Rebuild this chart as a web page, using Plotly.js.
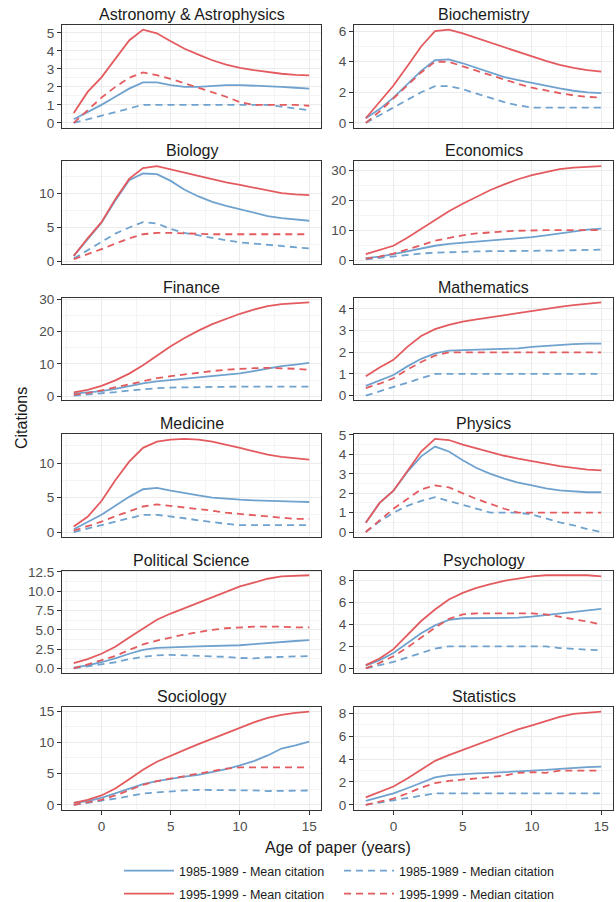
<!DOCTYPE html>
<html>
<head>
<meta charset="utf-8">
<script src="https://cdn.plot.ly/plotly-3.0.1.min.js"></script>
<style>html,body{margin:0;padding:0;background:#fff;overflow:hidden;}#chart{width:616px;height:902px;}</style>
</head>
<body>
<div id="chart"></div>
<script>
const years = [-2,-1,0,1,2,3,4,5,6,7,8,9,10,11,12,13,14,15];

const fields = ["Astronomy & Astrophysics","Biochemistry","Biology","Economics","Finance","Mathematics",
  "Medicine","Physics","Political Science","Psychology","Sociology","Statistics"];
const seriesNames = ["1985-1989 - Mean citation","1985-1989 - Median citation","1995-1999 - Mean citation","1995-1999 - Median citation"];
const yTickStep = [1,2,5,10,10,1,5,1,2.5,2,5,2];
const xTickVals = [0,5,10,15];

// Astronomy & Astrophysics
const astro_mean85 = [0.2,0.6,1.0,1.45,1.9,2.25,2.25,2.1,2.0,2.0,2.05,2.1,2.1,2.08,2.05,2.0,1.95,1.9];
const astro_med85  = [0,0.2,0.4,0.6,0.8,1.0,1.0,1.0,1.0,1.0,1.0,1.0,1.0,1.0,1.0,0.9,0.8,0.7];
const astro_mean95 = [0.55,1.72,2.53,3.57,4.58,5.18,4.98,4.54,4.12,3.79,3.48,3.24,3.06,2.93,2.82,2.73,2.67,2.64];
const astro_med95  = [0,0.7,1.4,2.0,2.5,2.8,2.65,2.45,2.2,1.95,1.7,1.45,1.15,1.0,1.0,1.0,1.0,0.95];
// Biochemistry
const bioch_mean85 = [0.3,0.9,1.65,2.5,3.4,4.1,4.15,3.9,3.6,3.3,3.0,2.8,2.6,2.4,2.25,2.1,2.0,1.95];
const bioch_med85  = [0,0.5,1.0,1.5,2.0,2.4,2.4,2.2,1.9,1.6,1.35,1.15,1.0,1.0,1.0,1.0,1.0,1.0];
const bioch_mean95 = [0.3,1.35,2.44,3.7,5.0,6.0,6.1,5.85,5.55,5.2,4.9,4.6,4.3,4.05,3.8,3.6,3.45,3.35];
const bioch_med95  = [0,0.75,1.6,2.45,3.3,4.0,4.0,3.7,3.4,3.1,2.8,2.55,2.3,2.1,1.95,1.8,1.7,1.65];
// Biology
const biol_mean85 = [0.8,3.3,5.7,9.0,12.0,13.0,12.9,11.9,10.6,9.6,8.8,8.2,7.7,7.2,6.7,6.4,6.2,6.0];
const biol_med85  = [0.4,1.6,2.9,4.1,5.0,5.8,5.6,4.8,4.2,3.8,3.4,3.1,2.8,2.6,2.4,2.2,2.0,1.9];
const biol_mean95 = [0.8,3.4,5.8,9.2,12.2,13.8,14.1,13.6,13.1,12.6,12.1,11.7,11.3,10.9,10.5,10.1,9.9,9.8];
const biol_med95  = [0.3,1.0,1.8,2.6,3.4,4.0,4.2,4.2,4.1,4.0,4.0,4.0,4.0,4.0,4.0,4.0,4.0,4.0];
// Economics
const econ_mean85 = [0.7,1.2,2.0,3.0,4.0,4.8,5.4,5.8,6.2,6.5,6.8,7.2,7.7,8.3,9.0,9.7,10.2,10.5];
const econ_med85  = [0.3,0.8,1.3,1.8,2.2,2.5,2.7,2.8,2.9,3.0,3.0,3.0,3.0,3.1,3.2,3.3,3.4,3.5];
const econ_mean95 = [2.0,3.3,4.8,7.5,10.5,13.5,16.3,18.8,21.2,23.4,25.3,27.0,28.4,29.5,30.4,30.9,31.2,31.4];
const econ_med95  = [0.5,1.2,2.2,3.5,5.0,6.5,7.5,8.3,8.9,9.3,9.6,9.8,10.0,10.0,10.0,10.0,10.0,10.0];
// Finance
const fin_mean85 = [0.8,1.2,1.6,2.3,3.2,4.0,4.6,5.0,5.4,5.8,6.2,6.6,7.1,7.8,8.6,9.3,9.8,10.3];
const fin_med85  = [0.2,0.5,0.8,1.3,1.8,2.2,2.5,2.7,2.8,2.9,3.0,3.0,3.0,3.0,3.0,3.0,3.0,3.0];
const fin_mean95 = [1.2,2.0,3.2,4.9,7.0,9.6,12.5,15.5,18.0,20.3,22.3,24.0,25.5,26.8,27.9,28.5,28.8,29.0];
const fin_med95  = [0.5,1.0,1.8,2.8,3.8,4.8,5.6,6.2,6.8,7.3,7.8,8.2,8.5,8.7,8.8,8.7,8.5,8.2];
// Mathematics
const math_mean85 = [0.45,0.7,0.95,1.35,1.7,1.95,2.08,2.1,2.12,2.15,2.15,2.18,2.25,2.3,2.33,2.38,2.4,2.4];
const math_med85  = [0,0.2,0.4,0.6,0.8,1.0,1.0,1.0,1.0,1.0,1.0,1.0,1.0,1.0,1.0,1.0,1.0,1.0];
const math_mean95 = [0.9,1.3,1.65,2.25,2.75,3.07,3.27,3.42,3.52,3.62,3.73,3.83,3.93,4.02,4.1,4.18,4.25,4.3];
const math_med95  = [0.35,0.55,0.8,1.2,1.55,1.85,2.0,2.0,2.0,2.0,2.0,2.0,2.0,2.0,2.0,2.0,2.0,2.0];
// Medicine
const med_mean85 = [0.4,1.4,2.5,3.8,5.1,6.2,6.4,6.0,5.6,5.3,5.0,4.8,4.7,4.6,4.5,4.45,4.4,4.35];
const med_med85  = [0,0.5,1.0,1.6,2.1,2.5,2.5,2.3,2.0,1.7,1.4,1.2,1.0,1.0,1.0,1.0,1.0,1.0];
const med_mean95 = [0.8,2.2,4.5,7.5,10.2,12.2,13.1,13.4,13.5,13.4,13.1,12.7,12.2,11.7,11.2,10.9,10.7,10.5];
const med_med95  = [0.2,0.8,1.5,2.3,3.0,3.7,4.0,3.8,3.6,3.4,3.1,2.8,2.6,2.4,2.2,2.0,1.9,1.9];
// Physics
const phys_mean85 = [0.48,1.5,2.13,3.1,3.9,4.4,4.15,3.7,3.3,3.0,2.75,2.55,2.4,2.25,2.15,2.1,2.05,2.05];
const phys_med85  = [0,0.55,1.0,1.35,1.6,1.8,1.6,1.4,1.2,1.0,1.0,1.0,0.9,0.7,0.5,0.35,0.15,0];
const phys_mean95 = [0.48,1.5,2.13,3.12,4.15,4.8,4.74,4.5,4.3,4.1,3.93,3.78,3.65,3.52,3.4,3.3,3.22,3.18];
const phys_med95  = [0,0.6,1.2,1.7,2.2,2.4,2.3,2.0,1.7,1.45,1.2,1.0,1.0,1.0,1.0,1.0,1.0,1.0];
// Political Science
const pol_mean85 = [0.1,0.4,0.8,1.3,1.9,2.4,2.65,2.75,2.8,2.85,2.9,2.95,3.0,3.15,3.3,3.45,3.55,3.65];
const pol_med85  = [0,0.25,0.5,0.8,1.2,1.5,1.7,1.75,1.7,1.6,1.55,1.5,1.35,1.3,1.45,1.5,1.55,1.6];
const pol_mean95 = [0.7,1.2,1.9,2.8,4.0,5.2,6.3,7.1,7.8,8.5,9.2,10.0,10.6,11.1,11.6,11.9,12.0,12.05];
const pol_med95  = [0,0.5,1.0,1.6,2.4,3.1,3.6,4.0,4.4,4.7,5.0,5.2,5.3,5.4,5.4,5.4,5.3,5.3];
// Psychology
const psy_mean85 = [0.25,0.75,1.4,2.3,3.2,3.9,4.4,4.55,4.55,4.55,4.55,4.6,4.7,4.85,5.0,5.15,5.3,5.4];
const psy_med85  = [0,0.3,0.6,1.0,1.4,1.8,2.0,2.0,2.0,2.0,2.0,2.0,2.0,2.0,1.85,1.75,1.7,1.65];
const psy_mean95 = [0.3,0.9,1.75,3.0,4.3,5.35,6.25,6.85,7.3,7.65,7.95,8.15,8.35,8.45,8.45,8.45,8.45,8.35];
const psy_med95  = [0,0.5,1.1,1.9,2.8,3.7,4.5,4.9,5.0,5.0,5.0,5.0,5.0,4.9,4.7,4.5,4.25,4.0];
// Sociology
const soc_mean85 = [0.3,0.6,1.1,1.8,2.6,3.3,3.8,4.2,4.5,4.8,5.2,5.7,6.3,7.0,7.9,9.0,9.5,10.1];
const soc_med85  = [0,0.3,0.6,1.0,1.4,1.8,2.0,2.2,2.3,2.4,2.4,2.4,2.4,2.3,2.2,2.2,2.25,2.3];
const soc_mean95 = [0.3,0.8,1.5,2.6,4.1,5.6,6.9,7.9,8.8,9.7,10.6,11.5,12.4,13.2,13.9,14.4,14.7,14.9];
const soc_med95  = [0,0.4,0.8,1.5,2.3,3.2,3.8,4.2,4.6,5.0,5.4,5.8,6.0,6.0,6.0,6.0,6.0,6.0];
// Statistics
const stat_mean85 = [0.35,0.65,1.0,1.45,1.95,2.4,2.6,2.7,2.75,2.8,2.85,2.95,3.0,3.05,3.15,3.25,3.3,3.35];
const stat_med85  = [0,0.2,0.4,0.6,0.8,1.0,1.0,1.0,1.0,1.0,1.0,1.0,1.0,1.0,1.0,1.0,1.0,1.0];
const stat_mean95 = [0.66,1.1,1.6,2.3,3.1,3.85,4.35,4.8,5.25,5.7,6.15,6.6,6.95,7.35,7.7,7.95,8.05,8.15];
const stat_med95  = [0,0.25,0.55,1.0,1.5,1.9,2.1,2.2,2.3,2.4,2.55,2.8,2.85,2.8,3.0,3.0,3.0,3.0];

const panelData = [
  [astro_mean85, astro_med85, astro_mean95, astro_med95],
  [bioch_mean85, bioch_med85, bioch_mean95, bioch_med95],
  [biol_mean85, biol_med85, biol_mean95, biol_med95],
  [econ_mean85, econ_med85, econ_mean95, econ_med95],
  [fin_mean85, fin_med85, fin_mean95, fin_med95],
  [math_mean85, math_med85, math_mean95, math_med95],
  [med_mean85, med_med85, med_mean95, med_med95],
  [phys_mean85, phys_med85, phys_mean95, phys_med95],
  [pol_mean85, pol_med85, pol_mean95, pol_med95],
  [psy_mean85, psy_med85, psy_mean95, psy_med95],
  [soc_mean85, soc_med85, soc_mean95, soc_med95],
  [stat_mean85, stat_med85, stat_mean95, stat_med95]
];

const W = 616, H = 902;
const BLUE = '#6FA2CE', RED = '#E35B5F';
const styles = [
  {color: BLUE, dash: 'solid'},
  {color: BLUE, dash: '7px,5px'},
  {color: RED, dash: 'solid'},
  {color: RED, dash: '7px,5px'}
];
const colPx = [[62, 321], [354, 613]];
const rowTop0 = 25, rowStep = 136.4, rowH = 102.5;
const FONT = 'Liberation Sans, Arial, sans-serif';
// legend slots: [left px of legend box, top px]
const legendSlots = [[119, 856], [339, 856], [119, 879], [339, 879]];
const legendIds = ['legend', 'legend2', 'legend3', 'legend4'];

const traces = [];
const layout = {
  width: W, height: H,
  margin: {l: 0, r: 0, t: 0, b: 0, autoexpand: false},
  paper_bgcolor: '#ffffff', plot_bgcolor: '#ffffff',
  font: {family: FONT, size: 13, color: '#4D4D4D'},
  showlegend: true,
  annotations: []
};
legendIds.forEach((id, k) => {
  layout[id] = {
    orientation: 'v', x: legendSlots[k][0] / W, xanchor: 'left',
    y: 1 - legendSlots[k][1] / H, yanchor: 'top',
    itemwidth: 50, borderwidth: 0,
    font: {family: FONT, size: 12.5, color: '#1A1A1A'}, bgcolor: 'rgba(0,0,0,0)'
  };
});

fields.forEach((name, i) => {
  const row = Math.floor(i / 2), col = i % 2;
  const ax = i === 0 ? '' : String(i + 1);
  const top = rowTop0 + row * rowStep, bot = top + rowH;
  const xd = [colPx[col][0] / W, colPx[col][1] / W];
  const yd = [1 - bot / H, 1 - top / H];
  const all = [].concat(...panelData[i]);
  const mn = Math.min(...all), mx = Math.max(...all);
  const pad = 0.05 * (mx - mn);
  const step = yTickStep[i];
  const isBottom = row === 5;

  layout['xaxis' + ax] = {
    domain: xd, anchor: 'y' + ax, range: [-2.85, 15.85],
    tickvals: xTickVals, showticklabels: isBottom,
    ticks: isBottom ? 'outside' : '', ticklen: 4, tickcolor: '#333333', tickwidth: 1,
    showgrid: true, gridcolor: '#EBEBEB', gridwidth: 1,
    minor: {tickvals: [-2.5, 2.5, 7.5, 12.5], showgrid: true, gridcolor: '#F4F4F4', gridwidth: 1, ticks: ''},
    showline: true, mirror: true, linecolor: '#333333', linewidth: 1,
    zeroline: false, fixedrange: true,
    tickfont: {family: FONT, size: 13.5, color: '#4D4D4D'}
  };
  layout['yaxis' + ax] = {
    domain: yd, anchor: 'x' + ax, range: [mn - pad, mx + pad],
    tick0: 0, dtick: step, tickformat: step === 2.5 ? '.1f' : '',
    ticks: 'outside', ticklen: 4, tickcolor: '#333333', tickwidth: 1,
    showgrid: true, gridcolor: '#EBEBEB', gridwidth: 1,
    minor: {dtick: step / 2, tick0: 0, showgrid: true, gridcolor: '#F4F4F4', gridwidth: 1, ticks: ''},
    showline: true, mirror: true, linecolor: '#333333', linewidth: 1,
    zeroline: false, fixedrange: true,
    tickfont: {family: FONT, size: 13.5, color: '#4D4D4D'}
  };
  layout.annotations.push({
    text: name, xref: 'paper', yref: 'paper',
    x: (xd[0] + xd[1]) / 2, y: yd[1], xanchor: 'center', yanchor: 'bottom', yshift: 0,
    showarrow: false, font: {family: FONT, size: 16, color: '#1A1A1A'}
  });
  panelData[i].forEach((vals, s) => {
    traces.push({
      x: years, y: vals, type: 'scatter', mode: 'lines',
      xaxis: 'x' + ax, yaxis: 'y' + ax,
      name: seriesNames[s],
      legend: legendIds[s],
      showlegend: i === 0,
      line: {color: styles[s].color, dash: styles[s].dash, width: 1.8},
      hoverinfo: 'skip'
    });
  });
});

layout.annotations.push({
  text: 'Age of paper (years)', xref: 'paper', yref: 'paper',
  x: 338 / W, y: 1 - 847 / H, xanchor: 'center', yanchor: 'middle',
  showarrow: false, font: {family: FONT, size: 16, color: '#1A1A1A'}
});
layout.annotations.push({
  text: 'Citations', xref: 'paper', yref: 'paper', textangle: -90,
  x: 22 / W, y: 1 - 418 / H, xanchor: 'center', yanchor: 'middle',
  showarrow: false, font: {family: FONT, size: 16, color: '#1A1A1A'}
});

Plotly.newPlot('chart', traces, layout, {displayModeBar: false, staticPlot: true});
</script>
</body>
</html>
